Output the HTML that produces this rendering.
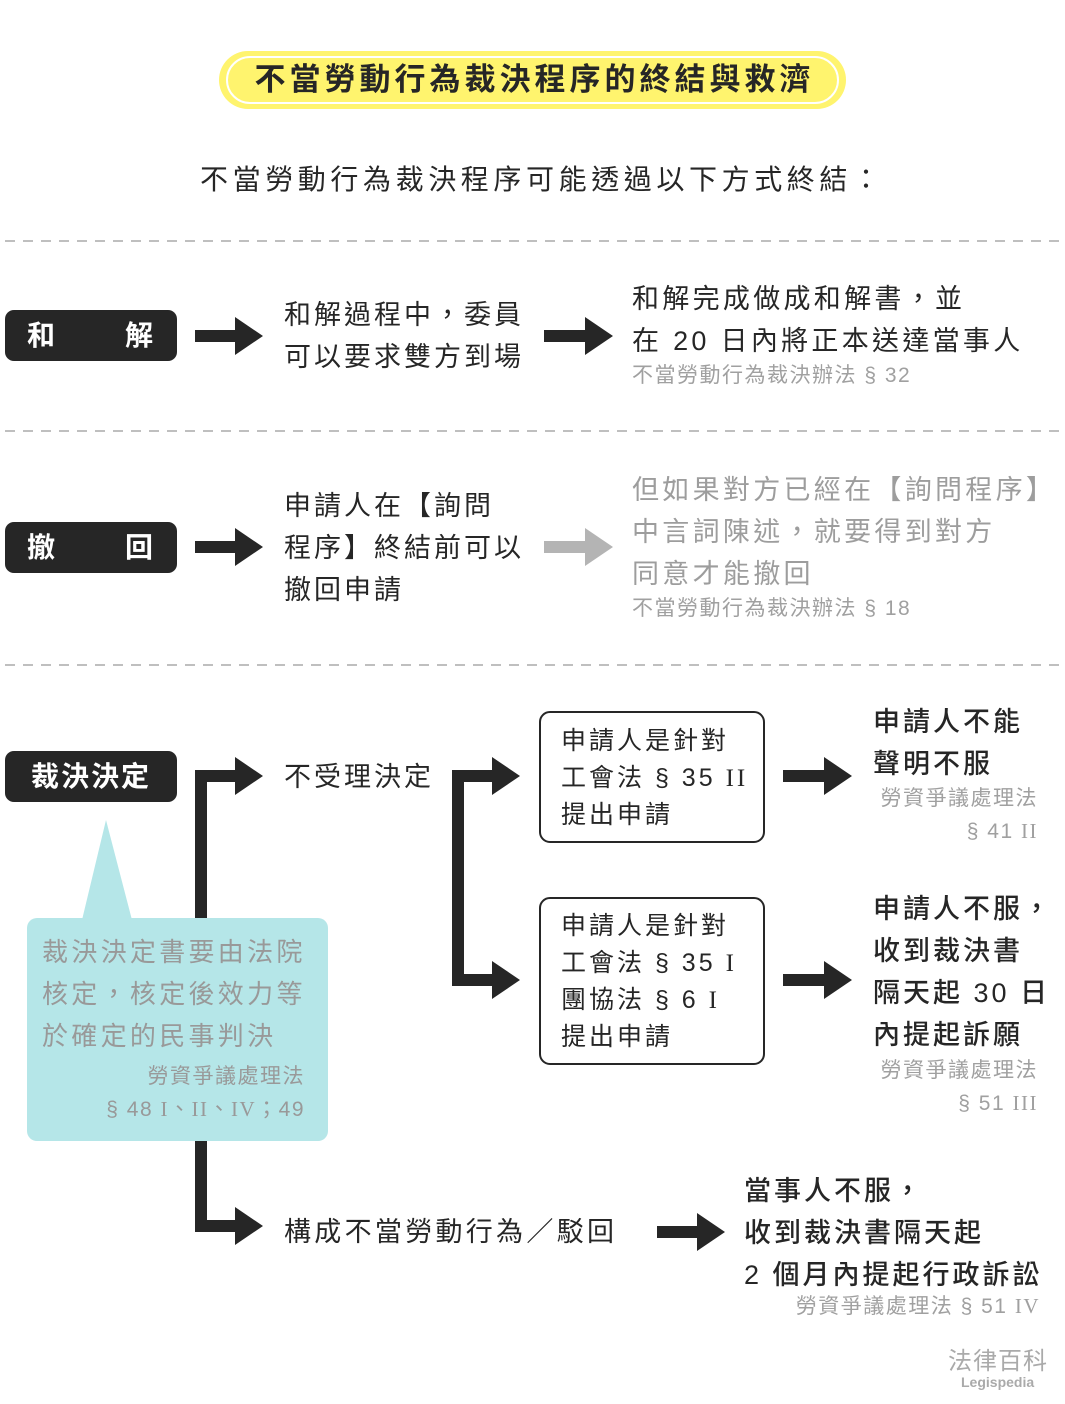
<!DOCTYPE html>
<html><head><meta charset="utf-8"><style>
body{margin:0;width:1065px;height:1404px;background:#fff;position:relative;overflow:hidden;font-family:"Liberation Sans","Noto Sans CJK TC",sans-serif;color:#262626}
.a{position:absolute;white-space:nowrap}
.t{font-size:27px;letter-spacing:3px;line-height:42px}
.g{color:#9a9a9a}
.r{font-size:21px;letter-spacing:1.5px;color:#a0a0a0;line-height:33px}
.pill{position:absolute;left:5px;width:172px;height:51px;background:#262626;border-radius:9px;color:#fff;font-weight:bold;font-size:28px;line-height:51px}
.box{position:absolute;left:539px;width:226px;border:2px solid #262626;border-radius:11px;box-sizing:border-box}
.bt{font-size:25px;letter-spacing:3px;line-height:37px;position:absolute;left:20px;white-space:nowrap}
.m{font-weight:500}
.s{font-family:"Liberation Serif",serif}
</style></head><body>
<div class="a" style="left:219px;top:51px;width:627px;height:58px;background:#fff46e;border-radius:29px;box-sizing:border-box;"></div>
<div class="a" style="left:226px;top:56px;width:613px;height:48px;border:2px solid #fff;border-radius:24px;box-sizing:border-box;"></div>
<div class="a" style="left:219px;top:51px;width:627px;height:58px;line-height:58px;text-align:center;font-weight:bold;font-size:31px;letter-spacing:4px;text-indent:4px">不當勞動行為裁決程序的終結與救濟</div>
<div class="a" style="left:200px;top:159px;font-size:28px;letter-spacing:4.6px;line-height:42px">不當勞動行為裁決程序可能透過以下方式終結：</div>

<svg class="a" style="left:0;top:0" width="1065" height="1404">
<g stroke="#999" stroke-width="1.3" stroke-dasharray="10,8">
<line x1="5" y1="241" x2="1060" y2="241"/><line x1="5" y1="431" x2="1060" y2="431"/><line x1="5" y1="665" x2="1060" y2="665"/>
</g>
<g fill="#262626">
<path d="M195 330h40v-13l28 19-28 19v-13h-40z"/>
<path d="M544 330h41v-13l28 19-28 19v-13h-41z"/>
<path d="M195 541h40v-13l28 19-28 19v-13h-40z"/>
<path d="M783 770h41v-13l28 19-28 19v-13h-41z"/>
<path d="M783 974h41v-13l28 19-28 19v-13h-41z"/>
<path d="M657 1226h40v-13l28 19-28 19v-13h-40z"/>
<path d="M195 770h40v-13l28 19-28 19v-13h-28v438h28v-13l28 19-28 19v-13h-40z"/>
<path d="M452 770h40v-13l28 19-28 19v-13h-28v192h28v-13l28 19-28 19v-13h-40z"/>
</g>
<path d="M544 541h41v-13l28 19-28 19v-13h-41z" fill="#b4b4b4"/>
<path d="M82 920L106 820L132 920z" fill="#b5e6e8"/>
</svg>

<div class="pill" style="top:310px"><span class="a" style="left:22px">和</span><span class="a" style="left:120px">解</span></div>
<div class="a t" style="left:284px;top:294px">和解過程中，委員<br>可以要求雙方到場</div>
<div class="a t" style="left:632px;top:278px;letter-spacing:3.3px">和解完成做成和解書，並<br>在 20 日內將正本送達當事人</div>
<div class="a r" style="left:632px;top:359px">不當勞動行為裁決辦法 § 32</div>

<div class="pill" style="top:522px"><span class="a" style="left:22px">撤</span><span class="a" style="left:120px">回</span></div>
<div class="a t" style="left:284px;top:485px">申請人在【詢問<br>程序】終結前可以<br>撤回申請</div>
<div class="a t g" style="left:632px;top:469px;color:#9d9d9d;letter-spacing:3.3px">但如果對方已經在【詢問程序】<br>中言詞陳述，就要得到對方<br>同意才能撤回</div>
<div class="a r" style="left:632px;top:592px">不當勞動行為裁決辦法 § 18</div>

<div class="pill" style="top:751px;text-align:center;letter-spacing:2px">裁決決定</div>
<div class="a t" style="left:284px;top:756px">不受理決定</div>
<div class="a t" style="left:284px;top:1211px;letter-spacing:3.3px">構成不當勞動行為／駁回</div>

<div class="a" style="left:27px;top:918px;width:301px;height:223px;background:#b5e6e8;border-radius:10px"></div>
<div class="a" style="left:42px;top:931px;font-size:26px;letter-spacing:3.3px;line-height:42px;color:#999">裁決決定書要由法院<br>核定，核定後效力等<br>於確定的民事判決</div>
<div class="a" style="left:27px;top:1060px;width:278px;text-align:right;font-size:21px;line-height:33px;letter-spacing:1.5px;color:#999">勞資爭議處理法<br>§ 48 <span class="s">I</span>、<span class="s">II</span>、<span class="s">IV</span>；49</div>

<div class="box" style="top:711px;height:132px"><div class="bt" style="top:10px">申請人是針對<br>工會法 § 35 <span class="s">II</span><br>提出申請</div></div>
<div class="box" style="top:897px;height:168px"><div class="bt" style="top:9px">申請人是針對<br>工會法 § 35 <span class="s">I</span><br>團協法 § 6 <span class="s">I</span><br>提出申請</div></div>

<div class="a t m" style="left:873px;top:701px">申請人不能<br>聲明不服</div>
<div class="a r" style="left:840px;top:782px;width:198px;text-align:right">勞資爭議處理法<br>§ 41 <span class="s">II</span></div>
<div class="a t m" style="left:873px;top:888px">申請人不服，<br>收到裁決書<br>隔天起 30 日<br>內提起訴願</div>
<div class="a r" style="left:840px;top:1054px;width:198px;text-align:right">勞資爭議處理法<br>§ 51 <span class="s">III</span></div>

<div class="a t m" style="left:744px;top:1170px">當事人不服，<br>收到裁決書隔天起<br>2 個月內提起行政訴訟</div>
<div class="a r" style="left:700px;top:1290px;width:340px;text-align:right">勞資爭議處理法 § 51 <span class="s">IV</span></div>

<div class="a" style="left:948px;top:1341px;font-size:24px;color:#aaa;letter-spacing:1px">法律百科</div>
<div class="a" style="left:961px;top:1374px;font-size:14px;font-weight:bold;color:#aaa">Legispedia</div>
</body></html>
